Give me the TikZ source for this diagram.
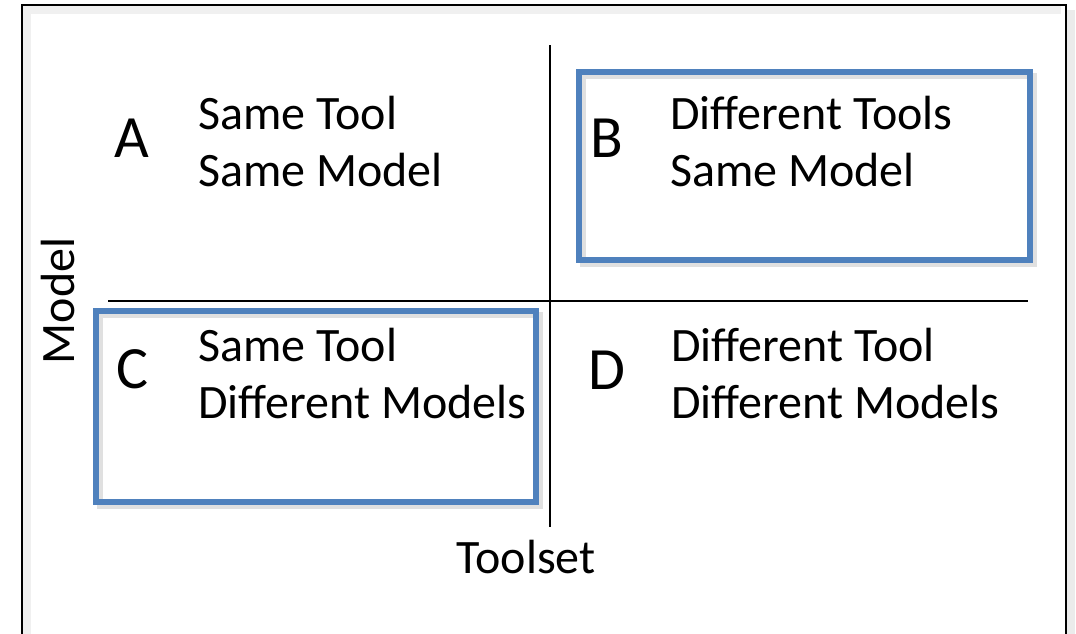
\documentclass[tikz,border=0pt]{standalone}
\usepackage{fontspec}
\setmainfont{Carlito}
\begin{document}
\begin{tikzpicture}[x=1pt,y=-1pt,
  bluebox/.style={draw={rgb,255:red,79;green,129;blue,189},line width=5.5pt},
  shadowbox/.style={draw=black,opacity=0.12,line width=6pt},
  axis/.style={draw=black,line width=1.4pt},
  letter/.style={anchor=base west,inner sep=0pt,font=\fontsize{60}{70}\selectfont},
  txt/.style={anchor=base west,inner sep=0pt,font=\fontsize{48}{56}\selectfont},
  axlabel/.style={inner sep=0pt,font=\fontsize{48}{56}\selectfont}]
\useasboundingbox (0,0) rectangle (1076,633);
\fill[white] (0,0) rectangle (1076,633);
% frame shadow
\draw[black,opacity=0.06,line width=8pt] (27,700) -- (27,10) -- (1061,10);
\draw[black,opacity=0.08,line width=8pt] (1071,10) -- (1071,700);
\draw[black,line width=2pt] (21.5,700) -- (21.5,4.5) -- (1066,4.5) -- (1066,700);
% axes
\coordinate (vt) at (550,45);
\coordinate (vb) at (550,527);
\coordinate (hl) at (108,301);
\coordinate (hr) at (1028,301);
\draw[axis] (vt) -- (vb);
\draw[axis] (hl) -- (hr);
% boxes
\draw[shadowbox] (583,76) rectangle (1034,264);
\draw[bluebox] (579,72) rectangle (1030,260);
\draw[shadowbox] (100,315) rectangle (540,506);
\draw[bluebox] (96,311) rectangle (536,502);
% letters
\node[letter] (A) at (114,157) {A};
\node[letter] (B) at (590,157) {B};
\node[letter] (C) at (116,388) {C};
\node[letter] (D) at (588,389) {D};
% texts
\node[txt] (a1) at (198,129) {Same Tool};
\node[txt] (a2) at (198,186) {Same Model};
\node[txt] (b1) at (670,129) {Different Tools};
\node[txt] (b2) at (670,186) {Same Model};
\node[txt] (c1) at (198,361) {Same Tool};
\node[txt] (c2) at (198,418) {Different Models};
\node[txt] (d1) at (671,361) {Different Tool};
\node[txt] (d2) at (671,418) {Different Models};
% axis labels
\node[axlabel,anchor=base] (ts) at (526,573) {Toolset};
\node[axlabel,anchor=base,rotate=90] (md) at (74,301) {Model};
\end{tikzpicture}
\end{document}
